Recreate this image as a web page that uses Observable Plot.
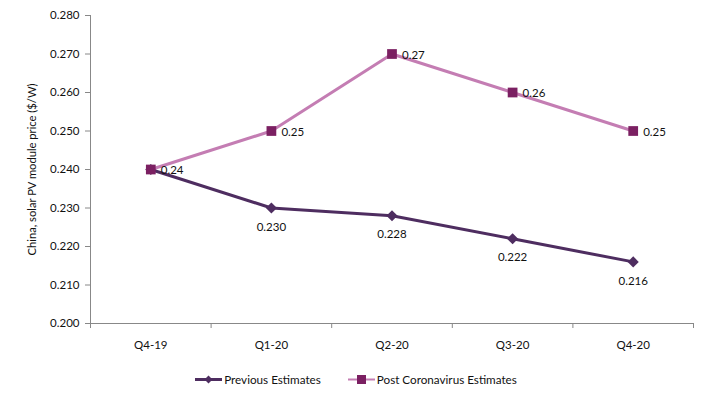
<!DOCTYPE html>
<html>
<head>
<meta charset="utf-8">
<script src="https://cdn.jsdelivr.net/npm/d3@7"></script>
<script src="https://cdn.jsdelivr.net/npm/@observablehq/plot@0.6"></script>
<style>
  body { margin: 0; background: #fff; font-family: Lato, "Open Sans", sans-serif; }
  #legend { width: 712px; display: flex; justify-content: center; gap: 27px; font-size: 11.7px; color: #111; margin-top: 14px; }
  #legend .item { display: flex; align-items: center; gap: 2px; }
</style>
</head>
<body>
<div id="chart"></div>
<div id="legend"></div>
<script>
const quarters = ["Q4-19", "Q1-20", "Q2-20", "Q3-20", "Q4-20"];
const previous = [0.240, 0.230, 0.228, 0.222, 0.216];
const post = [0.24, 0.25, 0.27, 0.26, 0.25];
const previousLabels = ["", "0.230", "0.228", "0.222", "0.216"];
const postLabels = ["0.24", "0.25", "0.27", "0.26", "0.25"];
const yTicks = [0.200, 0.210, 0.220, 0.230, 0.240, 0.250, 0.260, 0.270, 0.280];
const yTitle = "China, solar PV module price ($/W)";

const prevColor = "#4e2d60";
const postLine = "#c47db3";
const postMark = "#7b2062";
const axisColor = "#888";

const prevData = quarters.map((q, i) => ({i, v: previous[i], label: previousLabels[i]}));
const postData = quarters.map((q, i) => ({i, v: post[i], label: postLabels[i]}));
const boundaries = d3.range(quarters.length + 1).map(k => k - 0.5);

const chart = Plot.plot({
  width: 718,
  height: 358,
  marginLeft: 90,
  marginRight: 25,
  marginTop: 15,
  marginBottom: 35,
  style: {fontFamily: "Lato, 'Open Sans', sans-serif", fontSize: "11.5px", color: "#111"},
  x: {type: "linear", domain: [-0.5, quarters.length - 0.5]},
  y: {domain: [0.200, 0.280]},
  marks: [
    Plot.axisY({ticks: yTicks, tickFormat: d3.format(".3f"), tickSize: 5, tickPadding: 6, stroke: axisColor, label: null}),
    Plot.text([yTitle], {frameAnchor: "left", text: d => d, rotate: -90, textAnchor: "middle", dx: -58, fontSize: 11.2, fill: "#111"}),
    Plot.axisX({ticks: boundaries, tickFormat: () => "", tickSize: 5, stroke: axisColor, label: null}),
    Plot.axisX({ticks: d3.range(quarters.length), tickFormat: i => quarters[i], tickSize: 0, tickPadding: 17, label: null}),
    Plot.ruleY([0.200], {stroke: axisColor}),
    Plot.ruleX([-0.5], {stroke: axisColor}),
    Plot.line(prevData, {x: "i", y: "v", stroke: prevColor, strokeWidth: 3}),
    Plot.dot(prevData, {x: "i", y: "v", symbol: "diamond2", r: 5, fill: prevColor, stroke: "none"}),
    Plot.text(prevData, {x: "i", y: "v", text: "label", dy: 19, fill: "#111"}),
    Plot.line(postData, {x: "i", y: "v", stroke: postLine, strokeWidth: 3}),
    Plot.dot(postData, {x: "i", y: "v", symbol: "square", r: 5.5, fill: postMark}),
    Plot.text(postData, {x: "i", y: "v", text: "label", dx: 10, dy: 1, textAnchor: "start", fill: "#111"})
  ]
});
document.getElementById("chart").appendChild(chart);

const legendItems = [
  {name: "Previous Estimates", line: prevColor, mark: prevColor, shape: "diamond"},
  {name: "Post Coronavirus Estimates", line: postLine, mark: postMark, shape: "square"}
];
const legend = document.getElementById("legend");
for (const it of legendItems) {
  const div = document.createElement("div");
  div.className = "item";
  const sym = it.shape === "diamond"
    ? `<path d="M13.5,1.5 L17.5,5.5 L13.5,9.5 L9.5,5.5 Z" fill="${it.mark}"/>`
    : `<rect x="9" y="1" width="9" height="9" fill="${it.mark}"/>`;
  div.innerHTML = `<svg width="27" height="11"><line x1="0" x2="27" y1="5.5" y2="5.5" stroke="${it.line}" stroke-width="${it.shape === 'diamond' ? 3 : 2}"/>${sym}</svg><span>${it.name}</span>`;
  legend.appendChild(div);
}
</script>
</body>
</html>
